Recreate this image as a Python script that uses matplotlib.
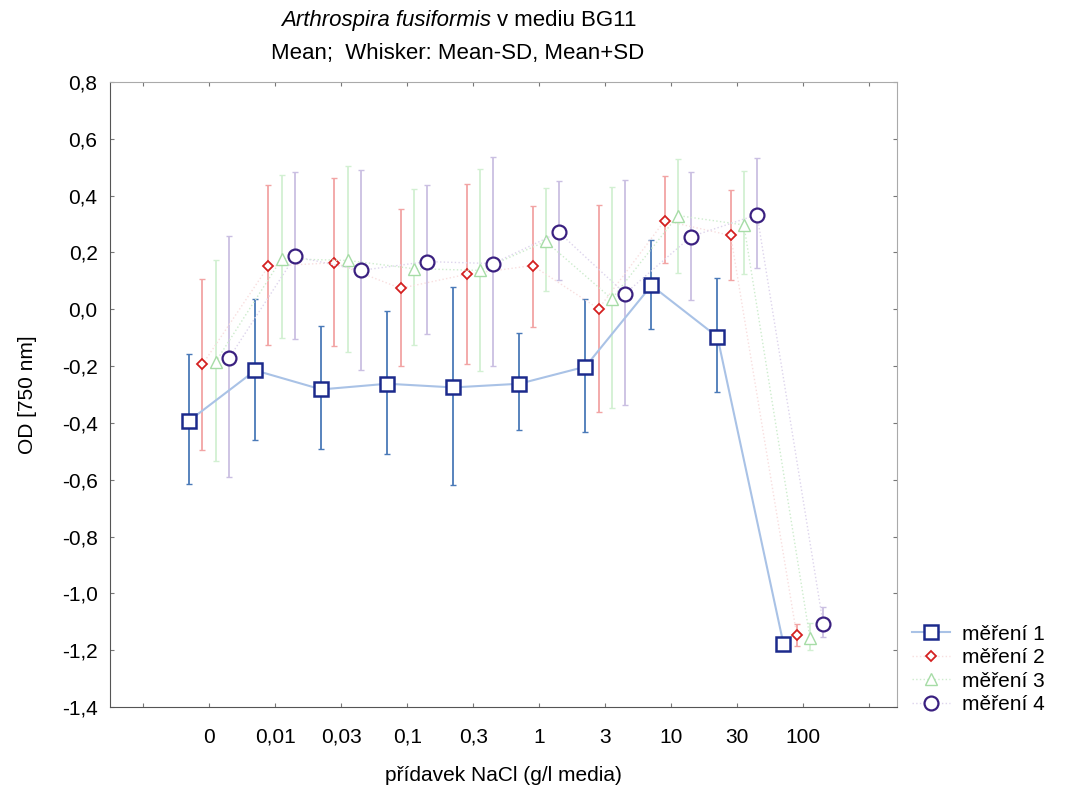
import numpy as np
import matplotlib
matplotlib.use("Agg")
import matplotlib.pyplot as plt

plt.rcParams['font.family'] = ['Liberation Sans', 'DejaVu Sans']

# categories (NaCl added, g/l)
cats = ["0", "0,01", "0,03", "0,1", "0,3", "1", "3", "10", "30", "100"]

# mean, mean-SD, mean+SD for each measurement
m1 = [-0.392, -0.215, -0.282, -0.262, -0.275, -0.262, -0.202, 0.084, -0.097, -1.178]
lo1 = [-0.615, -0.460, -0.490, -0.510, -0.620, -0.425, -0.433, -0.068, -0.292, -1.198]
hi1 = [-0.159, 0.035, -0.060, -0.006, 0.078, -0.085, 0.037, 0.245, 0.110, -1.158]

m2 = [-0.194, 0.152, 0.164, 0.074, 0.123, 0.154, 0.002, 0.312, 0.260, -1.145]
lo2 = [-0.495, -0.126, -0.129, -0.200, -0.194, -0.062, -0.360, 0.163, 0.104, -1.185]
hi2 = [0.105, 0.437, 0.463, 0.353, 0.441, 0.364, 0.367, 0.468, 0.420, -1.106]

m3 = [-0.185, 0.178, 0.172, 0.143, 0.137, 0.239, 0.037, 0.330, 0.297, -1.156]
lo3 = [-0.533, -0.100, -0.150, -0.126, -0.218, 0.064, -0.349, 0.128, 0.125, -1.200]
hi3 = [0.175, 0.472, 0.505, 0.423, 0.493, 0.427, 0.432, 0.529, 0.488, -1.105]

m4 = [-0.173, 0.186, 0.137, 0.168, 0.161, 0.271, 0.055, 0.256, 0.333, -1.106]
lo4 = [-0.592, -0.103, -0.212, -0.088, -0.200, 0.102, -0.337, 0.032, 0.145, -1.152]
hi4 = [0.257, 0.482, 0.490, 0.437, 0.535, 0.453, 0.455, 0.484, 0.531, -1.047]

labels = ["měření 1", "měření 2", "měření 3", "měření 4"]

fig = plt.figure(figsize=(10.66, 7.92), dpi=100)
ax = fig.add_axes([0.1032, 0.1073, 0.7383, 0.7891])

x = np.arange(1, len(cats) + 1)

# (mean, lo, hi, offset, marker, ms, edge color, line color, line style, line width, err color, mew)
series = [
    (m1, lo1, hi1, -0.3, 's', 10, '#1c2a8c', '#a9c2e6', '-', 1.5, '#4a7ab8', 1.8),
    (m2, lo2, hi2, -0.1, 'D', 5.5, '#d42020', '#f8dede', ':', 1.0, '#f2a4a4', 1.3),
    (m3, lo3, hi3, 0.1, '^', 8, '#a6dca6', '#cdeccd', ':', 1.0, '#d2f0d2', 1.0),
    (m4, lo4, hi4, 0.3, 'o', 10, '#3a2080', '#ddd4ec', ':', 1.0, '#cabfe2', 1.6),
]

handles = []
for (m, lo, hi, off, mk, ms, mec, lc, ls, lw, ec, mew), lab in zip(series, labels):
    m = np.array(m)
    yerr = [m - np.array(lo), np.array(hi) - m]
    xs = x + off
    ax.errorbar(xs, m, yerr=yerr, fmt='none', ecolor=ec, elinewidth=1.3,
                capsize=2, capthick=1, zorder=2)
    h, = ax.plot(xs, m, color=lc, ls=ls, lw=lw, marker=mk, ms=ms,
                 mfc='white', mec=mec, mew=mew, zorder=4, label=lab)
    handles.append(h)

ax.set_xlim(-0.5, 11.42)
ax.set_ylim(-1.4, 0.8)

ax.set_xticks(np.arange(0, 12))
ax.set_xticklabels([""] + cats + [""])
yt = [-1.4, -1.2, -1.0, -0.8, -0.6, -0.4, -0.2, 0.0, 0.2, 0.4, 0.6, 0.8]
ax.set_yticks(yt)
ax.set_yticklabels([f"{v:.1f}".replace('.', ',') for v in yt])

ax.tick_params(axis='both', direction='in', length=3, width=0.8,
               labelsize=15, top=True, right=True, color='#777777')
ax.tick_params(axis='x', pad=15)
ax.tick_params(axis='y', pad=9)

ax.spines['left'].set_color('#555555')
ax.spines['bottom'].set_color('#555555')
ax.spines['top'].set_color('#aaaaaa')
ax.spines['right'].set_color('#aaaaaa')

ax.set_xlabel("přídavek NaCl (g/l media)", fontsize=15)
ax.xaxis.set_label_coords(0.5, -0.095)
ax.set_ylabel("OD [750 nm]", fontsize=15)
ax.yaxis.set_label_coords(-0.093, 0.5)

# two-line title, first line partly italic
fig.text(0.4606, 0.9672, "Arthrospira fusiformis", style='italic',
         ha='right', va='baseline', fontsize=16)
fig.text(0.4664, 0.9672, "v mediu BG11", ha='left', va='baseline', fontsize=16)
fig.text(0.4292, 0.9255, "Mean;  Whisker: Mean-SD, Mean+SD",
         ha='center', va='baseline', fontsize=16)

fig.legend(handles=handles, loc='upper left', bbox_to_anchor=(0.848, 0.222),
           frameon=False, fontsize=15, handlelength=1.8, handletextpad=0.6,
           labelspacing=0.22, borderaxespad=0)

fig.savefig("out.png", dpi=100)
